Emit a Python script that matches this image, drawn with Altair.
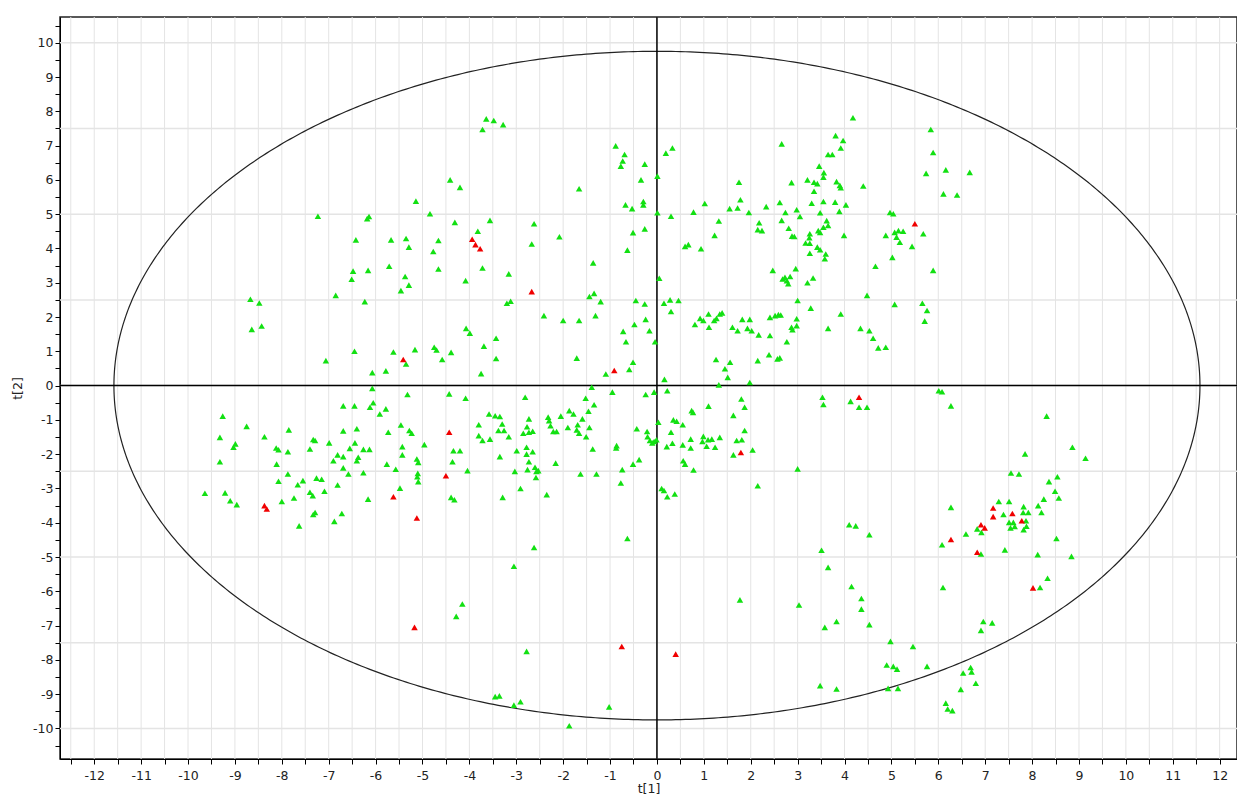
import altair as alt
import numpy as np
import pandas as pd

# ---- data ----
green_x = [
    -7.23, -6.18, -6.14, -5.14, -6.42, -5.67, -5.35, -5.29,
    -3.64, -3.48, -3.72, -3.28,
    -0.88, -0.69, -0.73, -0.77, -0.26, 0.19, 0.33, 0.01, -0.34, -1.66,
    -4.41, -4.20, -4.84, -4.31, -3.56, -3.82, -4.66, -4.77,
    -2.62, -2.67, -2.08,
    -0.67, -0.53, -0.29, -0.29, 0.01, 0.30, -0.51, -0.26, -0.63,
    0.60, 0.67, 0.94, 0.78, 1.02, 1.32, 1.23,
    1.75, 1.78, 1.55, 1.72, 1.96, 2.33, 2.18, 2.15, 2.24,
    2.66, 2.87, 2.62, 2.74, 2.66, 2.98, 3.05, 2.81, 2.88, 2.93,
    3.21, 3.35, 3.42, 3.65, 3.46, 3.56, 3.55, 3.35, 3.30, 3.55, 3.48,
    3.62, 3.55, 3.65, 3.44, 3.48, 3.26, 3.25, 3.17, 3.26, 3.42, 3.48, 3.26, 3.60,
    4.18, 3.81, 3.97, 3.92, 3.74, 3.83, 3.90, 3.92, 4.40, 3.80, 4.03, 3.89,
    4.97, 5.04, 5.84, 5.89, 5.74, 6.16, 6.67, 6.11, 6.40,
    4.88, 5.07, 5.15, 5.25, 5.11, 5.18, 5.68, 5.44, 3.99, 5.02,
    -6.48, -6.51, -6.16, -5.71, -5.37, -5.29, -5.46, -6.85, -6.23,
    -8.67, -8.48, -8.64, -8.43,
    -6.45, -5.62, -5.16, -5.35, -7.06, -6.07, -5.78, -6.07, -5.32,
    -6.69, -6.45, -6.12, -6.05, -5.78, -5.91,
    -9.26, -8.75, -9.32, -8.37, -7.85, -7.33, -7.29, -6.99, -6.69, -6.40, -6.44, -5.73, -5.46, -5.28, -5.23,
    -8.99, -9.03, -8.12, -8.07, -7.87, -7.40, -6.55, -6.26, -6.13, -6.37, -6.40, -6.81, -6.69, -6.90, -5.43, -5.43, -5.12, -5.09,
    -9.32, -8.11, -7.87, -8.07, -7.66, -7.55, -7.26, -7.15, -7.40, -7.34, -7.09, -6.69, -6.58, -6.26, -6.81, -5.76, -5.57, -5.10, -5.09, -5.48,
    -9.64, -9.21, -9.10, -8.96, -8.00, -7.74, -6.16,
    -7.29, -7.33, -6.88, -6.72, -7.63,
    -1.36, -4.66, -3.72, -4.08, -3.16, -3.20, -3.12, -2.41, -2.00, -1.66, -1.44, -1.34, -1.20, -1.31,
    -0.45, -0.26, -0.24, -0.48, -0.72, -0.16, -0.66, -0.04, 0.05, 0.15, 0.28, 0.46, 0.30,
    -4.07, -3.99, -3.43, -3.69, -3.43, -3.75, -4.75, -4.70, -4.39, -4.58, -1.71,
    -1.09, -0.59, -0.51, -1.39, 0.16, -0.95, -0.24, -0.06, 0.22,
    -4.43, -4.08, -2.81, -1.52, -1.34, -1.46,
    -3.58, -3.45, -3.35, -3.80, -3.30, -3.38, -3.26,
    -3.80, -3.72, -3.56, -3.16, -2.73, -2.77, -2.85, -2.73, -2.65,
    -2.32, -2.30, -2.27, -2.05, -1.87, -1.78, -2.21, -2.14, -1.90, -1.69, -1.59, -1.71, -1.66, -1.51, -1.44,
    -4.96, -4.34, -4.20, -4.36, -4.04, -5.11,
    -3.35, -2.99, -2.78, -2.78, -2.65, -2.73, -2.76, -2.60, -2.57, -2.53, -2.58, -3.03, -2.91, -3.29, -2.35, -2.16, -1.63, -1.37, -1.29,
    -0.86, -0.87, -0.74, -0.77, -0.51, -0.38, -0.43, -0.21, -0.20, -0.15, -0.06, -0.10, -0.01, 0.03,
    -4.39, -4.32, 0.10, 0.15, 0.22, 0.38,
    0.35, 0.42, 0.55, 0.30, 0.21, 0.33, 0.55, 0.56, 0.60, 0.78, 0.74, 0.77, 0.72, 0.72,
    0.99, 0.97, 1.09, 1.17, 1.06, 1.24, 1.34, 1.10, 1.63, 1.80, 1.87, 1.87, 1.70, 1.81, 1.63, 2.04, 2.15, 3.00, 3.53, 3.55,
    2.47, 2.68, 2.77, 2.73, 2.84, 2.80, 2.96, 3.21, 3.33, 3.58, 3.00, 3.28, 3.65,
    0.81, 0.92, 0.99, 1.10, 1.11, 1.22, 1.27, 1.34, 1.39, 1.61, 1.72, 1.82, 1.98, 1.93, 2.02, 2.17,
    2.41, 2.52, 2.59, 2.64, 2.41, 2.87, 2.89, 2.98, 2.98, 2.77, 2.39, 2.57, 2.62, 2.15, 1.26, 1.56, 1.45, 1.51, 1.32, 1.98,
    4.66, 5.89, 4.48, 5.07, 5.66, 5.76, 5.71, 3.92, 4.34, 4.53, 4.61, 4.72, 4.88,
    4.13, 4.31, 4.48, 6.01, 6.08, 6.27, 8.31, 8.86, 9.14, 7.85, 7.55, 7.72, 8.54, 8.36, 8.49, 8.57, 8.25, 8.13, 7.29, 7.51, 7.82, 6.27,
    7.92, 7.81, 8.20, 7.39, 7.51, 7.60, 7.54, 7.63, 7.87, 7.88, 7.82, 6.83, 6.92, 6.59, 6.08, 6.91, 7.42, 8.12, 8.52, 8.84, 8.33, 8.17, 6.10, 6.96, 7.15, 6.91,
    3.51, 3.65, 4.10, 4.24, 4.53, 4.15, 4.36, 4.36, 3.83, 3.58, 4.53, 4.98, 5.46, 4.90, 5.04, 5.12, 5.76, 4.93, 5.14, 3.48, 3.83,
    6.69, 6.71, 6.53, 6.80, 6.48, 6.16, 6.20, 6.30,
    -0.63, -2.62, -3.05, -4.15, -4.28, -2.78, -3.45, -3.36, -3.05, -2.91, -1.87, -1.02, 1.77, 3.03,
]
green_y = [
    4.94, 4.87, 4.93, 5.38, 4.25, 4.25, 4.29, 4.04,
    7.78, 7.73, 7.47, 7.61,
    6.99, 6.74, 6.55, 6.40, 6.46, 6.78, 6.93, 6.11, 6.00, 5.74,
    6.00, 5.78, 5.01, 4.76, 4.82, 4.50, 4.23, 3.91,
    4.72, 4.13, 4.34,
    5.27, 5.16, 5.37, 5.27, 5.04, 4.94, 4.46, 4.57, 3.95,
    4.06, 4.11, 3.99, 5.06, 5.31, 4.80, 4.38,
    5.93, 5.42, 5.16, 5.18, 5.05, 5.22, 4.75, 4.55, 4.52,
    7.05, 5.92, 5.34, 5.05, 4.82, 5.13, 4.93, 4.59, 4.36, 4.35,
    6.00, 5.93, 5.89, 6.74, 6.40, 6.21, 6.08, 5.67, 5.32, 5.37, 5.04,
    4.81, 4.62, 4.67, 4.52, 4.47, 4.43, 4.31, 4.16, 4.15, 4.04, 3.96, 3.86, 3.84,
    7.81, 7.29, 7.15, 6.93, 6.74, 5.95, 5.84, 5.77, 5.82, 5.35, 5.27, 5.08,
    5.05, 5.01, 7.47, 6.80, 6.19, 6.29, 6.22, 5.59, 5.56,
    4.38, 4.47, 4.52, 4.50, 4.33, 4.18, 4.43, 4.06, 4.38, 3.74,
    3.34, 3.10, 3.36, 3.48, 3.18, 2.93, 2.77, 2.63, 2.45,
    2.52, 2.41, 1.64, 1.74,
    1.00, 0.98, 1.05, 0.63, 0.73, 0.38, 0.43, -0.08, -0.26,
    -0.59, -0.59, -0.63, -0.50, -0.68, -0.83,
    -0.89, -1.19, -1.51, -1.49, -1.29, -1.57, -1.60, -1.67, -1.32, -1.26, -1.67, -1.36, -1.15, -1.31, -1.39,
    -1.70, -1.80, -1.82, -1.87, -1.93, -1.85, -1.83, -1.86, -1.86, -2.09, -2.19, -2.02, -2.07, -2.19, -1.78, -2.02, -2.14, -2.24,
    -2.22, -2.29, -2.58, -2.79, -2.89, -2.77, -2.70, -2.73, -3.11, -3.21, -3.08, -2.40, -2.58, -2.54, -2.90, -2.29, -2.44, -2.56, -2.80, -2.99,
    -3.14, -3.13, -3.36, -3.47, -3.38, -3.28, -3.31,
    -3.70, -3.76, -3.96, -3.73, -4.09,
    3.58, 3.40, 3.43, 3.06, 3.26, 2.40, 2.46, 2.04, 1.90, 1.90, 2.60, 2.69, 2.45, 2.04,
    2.48, 2.38, 1.93, 1.78, 1.58, 1.60, 1.28, 1.28, 3.13, 2.40, 2.50, 2.48, 2.16,
    1.67, 1.53, 1.38, 1.15, 0.79, 0.35, 1.12, 1.04, 0.97, 0.76, 0.80,
    0.34, 0.47, 0.68, -0.05, 0.18, -0.19, -0.26, -0.19, -0.15,
    -0.24, -0.37, -0.34, -0.37, -0.56, -0.75,
    -0.83, -0.88, -0.90, -1.14, -1.12, -1.31, -1.31,
    -1.46, -1.60, -1.56, -1.49, -0.97, -1.20, -1.39, -1.36, -1.33,
    -0.92, -1.02, -1.17, -0.89, -0.73, -0.83, -1.34, -1.34, -1.22, -1.14, -0.97, -1.29, -1.39, -1.49, -1.22,
    -1.72, -1.90, -1.90, -2.22, -2.48, -2.66,
    -2.07, -1.90, -1.80, -2.00, -1.93, -2.22, -2.45, -2.38, -2.50, -2.48, -2.68, -2.50, -3.00, -3.26, -3.18, -2.26, -2.58, -1.85, -2.58,
    -1.75, -1.82, -2.45, -2.84, -2.29, -2.16, -1.26, -1.34, -1.49, -1.60, -1.63, -1.67, -1.58, -1.07,
    -3.26, -3.33, -3.00, -3.06, -3.24, -3.16,
    -1.00, -1.04, -1.14, -1.36, -1.78, -1.68, -1.73, -2.19, -2.29, -2.46, -0.73, -0.78, -1.56, -1.82,
    -1.48, -1.63, -1.58, -1.56, -1.77, -1.80, -1.51, -0.60, -0.87, -0.39, -0.63, -1.31, -1.60, -1.58, -2.02, -1.88, -2.92, -2.43, -0.34, -0.55,
    3.36, 3.11, 3.06, 3.16, 3.18, 2.97, 3.41, 3.00, 3.14, 3.70, 2.48, 2.26, 1.67,
    1.78, 1.96, 1.90, 2.09, 1.70, 1.90, 1.96, 2.09, 2.12, 1.70, 1.60, 1.93, 1.93, 1.67, 1.60, 1.48,
    1.99, 2.04, 2.07, 2.06, 1.46, 1.70, 1.63, 1.75, 1.95, 1.28, 0.90, 0.78, 0.81, 0.73, 0.76, 0.68, 0.49, 0.24, 0.02, 0.09,
    3.48, 3.36, 2.63, 2.37, 2.40, 2.19, 1.88, 2.09, 1.67, 1.60, 1.38, 1.10, 1.12,
    -0.46, -0.63, -0.63, -0.15, -0.18, -0.59, -0.89, -1.80, -2.12, -1.99, -2.55, -2.58, -2.66, -2.80, -3.08, -3.28, -3.31, -3.50, -3.38, -3.38, -3.53, -3.55,
    -3.70, -3.70, -3.70, -3.76, -3.99, -3.99, -4.15, -4.11, -3.94, -4.10, -4.20, -4.18, -4.28, -4.33, -4.64, -4.91, -4.79, -4.93, -4.46, -4.98, -5.62, -5.89, -5.89, -6.88, -6.92, -7.14,
    -4.80, -5.30, -4.06, -4.09, -4.35, -5.86, -6.21, -6.52, -6.88, -7.05, -6.97, -7.46, -7.61, -8.15, -8.19, -8.27, -8.19, -8.83, -8.83, -8.75, -8.85,
    -8.22, -8.35, -8.38, -8.68, -8.86, -9.26, -9.43, -9.48,
    -4.46, -4.72, -5.27, -6.37, -6.73, -7.75, -9.07, -9.05, -9.32, -9.22, -9.92, -9.37, -6.25, -6.40,
]
red_x = [-3.94, -3.87, -3.77, -2.67, -5.41, -0.91, 5.50, 4.31, -4.43, -4.50, -5.62,
         -8.37, -8.32, -5.12, -5.17, -0.75, 0.40, 1.79,
         7.17, 7.17, 7.58, 7.78, 6.91, 6.99, 6.27, 6.83, 8.02]
red_y = [4.27, 4.11, 3.99, 2.74, 0.76, 0.44, 4.72, -0.34, -1.36, -2.63, -3.24,
         -3.50, -3.60, -3.86, -7.05, -7.61, -7.83, -1.95,
         -3.57, -3.82, -3.73, -3.94, -4.06, -4.15, -4.49, -4.86, -5.90]

# Hotelling T2 ellipse radii
ELLIPSE_A = 11.58
ELLIPSE_B = 9.75

X_DOMAIN = [-12.73, 12.37]
Y_DOMAIN = [-10.89, 10.75]

# ---- frames ----
pts = pd.DataFrame({
    "t1": green_x + red_x,
    "t2": green_y + red_y,
    "cls": ["g"] * len(green_x) + ["r"] * len(red_x),
    "ord": [0] * len(green_x) + [1] * len(red_x),
})
theta = np.linspace(0, 2 * np.pi, 721)
ell = pd.DataFrame({"t1": ELLIPSE_A * np.cos(theta), "t2": ELLIPSE_B * np.sin(theta), "i": np.arange(len(theta))})
grid_x = pd.DataFrame({"t1": [float(v) for v in np.arange(-12.5, 12.01, 0.5)]})
grid_y = pd.DataFrame({"t2": [float(v) for v in np.arange(-10, 10.01, 2.5)]})
zero_x = pd.DataFrame({"t1": [0.0]})
zero_y = pd.DataFrame({"t2": [0.0]})

xs = alt.Scale(domain=X_DOMAIN, nice=False, zero=False)
ys = alt.Scale(domain=Y_DOMAIN, nice=False, zero=False)

FONT = "DejaVu Sans"
tick_vals_x = [float(v) for v in np.arange(-12.5, 12.01, 0.5)]
tick_vals_y = [float(v) for v in np.arange(-10.5, 10.51, 0.5)]
lab = "datum.value % 1 == 0 ? '' + datum.value : ''"

x_axis = alt.Axis(values=tick_vals_x, labelExpr=lab, grid=False, tickSize=5, tickColor="black",
                  domainColor="black", labelFont=FONT, labelFontSize=12.5, labelColor="#222",
                  labelPadding=5, title="t[1]", titleFont=FONT, titleFontSize=12.5,
                  titleFontWeight="normal", titleColor="#222", titlePadding=1, labelFlush=False)
y_axis = alt.Axis(values=tick_vals_y, labelExpr=lab, grid=False, tickSize=5, tickColor="black",
                  domainColor="black", labelFont=FONT, labelFontSize=12.5, labelColor="#222",
                  labelPadding=2, title="t[2]", titleFont=FONT, titleFontSize=12.5,
                  titleFontWeight="normal", titleColor="#222", titlePadding=8, labelFlush=False)

X = alt.X("t1:Q", scale=xs, axis=x_axis)
Y = alt.Y("t2:Q", scale=ys, axis=y_axis)

gx = alt.Chart(grid_x).mark_rule(color="#e4e4e4", strokeWidth=1).encode(x=X)
gy = alt.Chart(grid_y).mark_rule(color="#e4e4e4", strokeWidth=1.5).encode(y=Y)
ellipse = alt.Chart(ell).mark_line(color="#222", strokeWidth=1.2).encode(x=X, y=Y, order="i:Q")
zx = alt.Chart(zero_x).mark_rule(color="black", strokeWidth=1.5).encode(x=X)
zy = alt.Chart(zero_y).mark_rule(color="black", strokeWidth=1.5).encode(y=Y)
points = alt.Chart(pts).mark_point(shape="triangle-up", filled=True, opacity=1, size=42, clip=True).encode(
    x=X, y=Y,
    color=alt.Color("cls:N", scale=alt.Scale(domain=["g", "r"], range=["#12e012", "#f00000"]), legend=None),
    order="ord:Q")

chart = alt.layer(gx, gy, ellipse, zx, zy, points).properties(
    width=1177, height=742,
    autosize=alt.AutoSizeParams(type="none"),
    padding={"left": 52, "top": 9, "right": 0, "bottom": 42},
    background="white",
).configure_view(stroke="#222", strokeWidth=1.5)

chart.save("out.html", embed_options={"renderer": "svg", "actions": False})
